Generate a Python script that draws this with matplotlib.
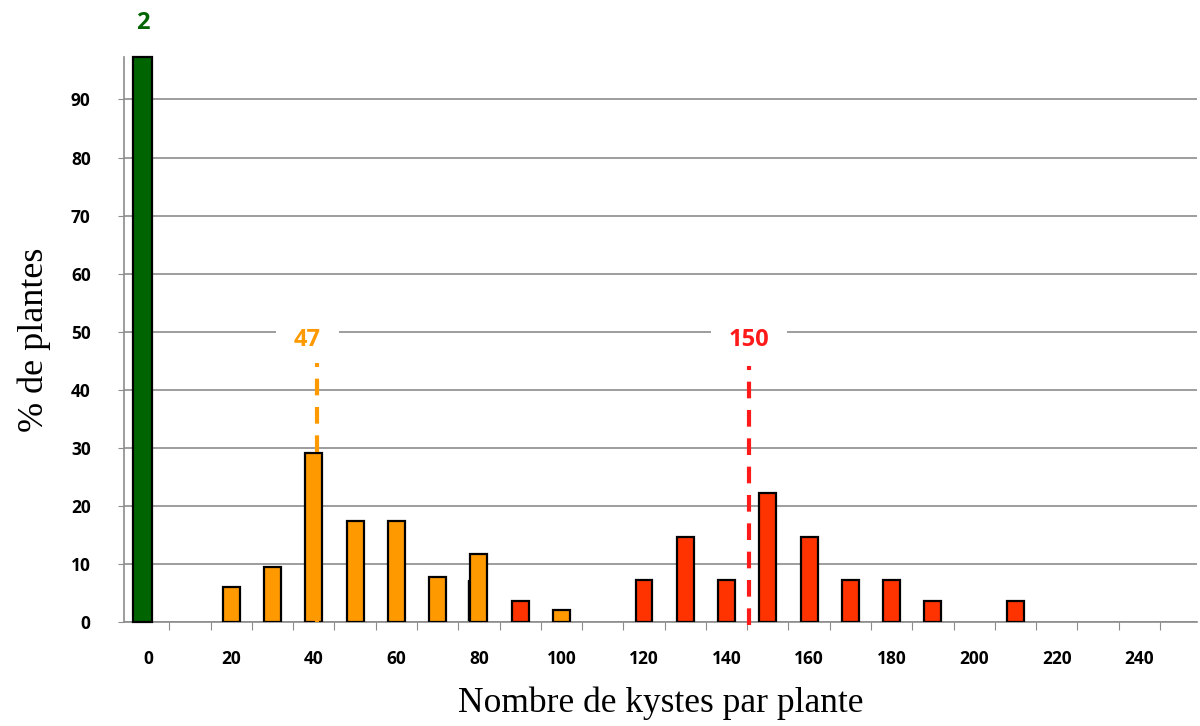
import numpy as np
import matplotlib.pyplot as plt

############## Data ####################
kystes = [20, 30, 40, 50, 60, 70, 80, 100]
pct_orange = [6.0, 9.5, 29.1, 17.4, 17.4, 7.85, 11.8, 2.15]
kystes_red = [90, 120, 130, 140, 150, 160, 170, 180, 190, 210]
pct_red = [3.7, 7.3, 14.7, 7.3, 22.2, 14.7, 7.3, 7.3, 3.7, 3.7]
kystes_green = [0]
pct_green = [97.3]
hidden_x = [80]
hidden_pct = [7.3]   # black bar hiding behind the orange one at 80

mean_orange = 40.8
mean_red = 145.5
labels_top = ['2', '47', '150']

xtick_labels = list(range(0, 241, 20))
yticks = list(range(0, 91, 10))

c_green = '#006400'
c_orange = '#FF9900'
c_red = '#FF3300'

######################################################
fig = plt.figure(figsize=(12, 7.26), dpi=100)
ax = fig.add_axes([0.1033, 0.1428, 0.8942, 0.7787])

ax.grid(True, axis='y', color='#8c8c8c', linewidth=1.2, zorder=0)
ax.set_axisbelow(True)

w = 4.1
ax.bar(np.array(hidden_x) - 0.7, hidden_pct, width=w, color='black',
       edgecolor='black', zorder=2)
ax.bar(kystes, pct_orange, width=w, color=c_orange, edgecolor='black',
       linewidth=1.6, zorder=3)
ax.bar(kystes_red, pct_red, width=w, color=c_red, edgecolor='black',
       linewidth=1.6, zorder=3)
ax.bar(np.array(kystes_green) - 1.4, pct_green, width=4.6, color=c_green,
       edgecolor='black', linewidth=1.6, zorder=3, clip_on=False)

# mean lines
ax.plot([mean_orange, mean_orange], [0, 44.6], color=c_orange, lw=3,
        dashes=(4, 2.8), zorder=6, clip_on=False)
ax.plot([mean_red, mean_red], [-0.5, 44.2], color='#FF1A1A', lw=3,
        dashes=(4, 2.8), zorder=6, clip_on=False)

bold_font = dict(family='Open Sans', fontweight='bold', fontsize=17)
ax.text(-1.4, 103.2, labels_top[0], color=c_green, ha='center', va='center',
        clip_on=False, **bold_font)
ax.text(38.5, 48.6, labels_top[1], color=c_orange, ha='center', va='center',
        bbox=dict(facecolor='white', edgecolor='none', pad=13), zorder=5, **bold_font)
ax.text(145.5, 48.6, labels_top[2], color='#FF1A1A', ha='center', va='center',
        bbox=dict(facecolor='white', edgecolor='none', pad=13), zorder=5, **bold_font)

ax.set_xlim(-6, 254)
ax.set_ylim(0, 97.3)

ax.spines['top'].set_visible(False)
ax.spines['right'].set_visible(False)
ax.spines['left'].set_color('#8c8c8c')
ax.spines['bottom'].set_color('#8c8c8c')
ax.spines['left'].set_linewidth(1.2)
ax.spines['bottom'].set_linewidth(1.2)

ax.set_yticks(yticks)
ax.set_yticklabels([str(v) for v in yticks], fontfamily='Open Sans',
                   fontweight='bold', fontsize=12.5)
ax.tick_params(axis='y', length=4, color='#8c8c8c', pad=20)

ax.set_xticks(list(range(5, 250, 10)))
ax.set_xticklabels([])
ax.tick_params(axis='x', which='major', length=6, color='#8c8c8c', direction='out')
ax.set_xticks(xtick_labels, minor=True)
ax.set_xticklabels([str(v) for v in xtick_labels], minor=True,
                   fontfamily='Open Sans', fontweight='bold', fontsize=12.5)
ax.tick_params(axis='x', which='minor', length=0, pad=20)

ax.set_xlabel('Nombre de kystes par plante', fontfamily='Liberation Serif',
              fontsize=25.5, labelpad=13)
ax.set_ylabel('% de plantes', fontfamily='Liberation Serif', fontsize=26,
              labelpad=14)

fig.savefig('out.png', dpi=100)
